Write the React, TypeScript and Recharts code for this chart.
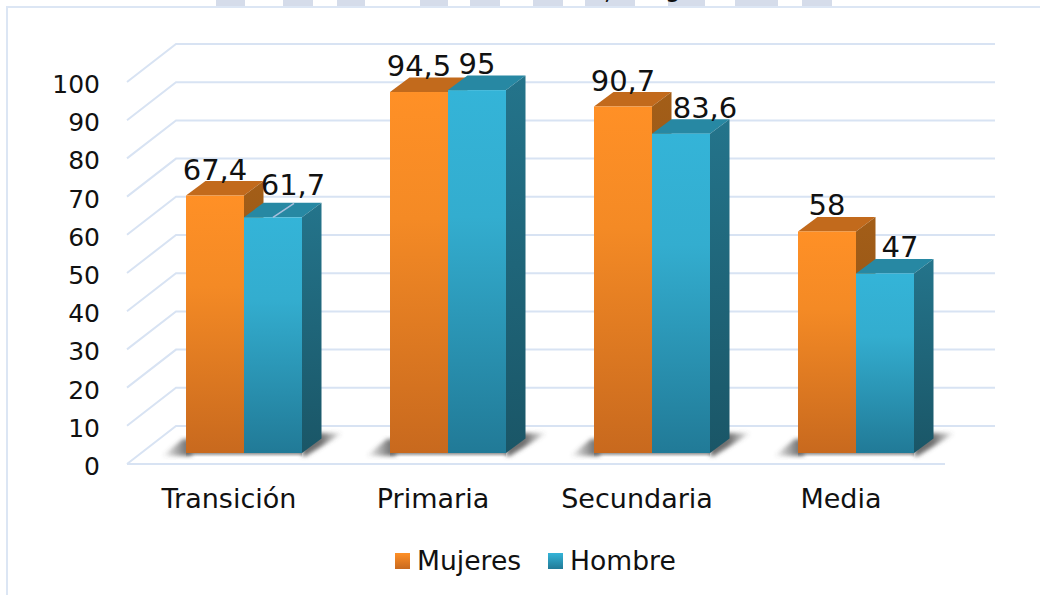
import React from 'react';
import { BarChart, Bar, XAxis, YAxis, CartesianGrid, Legend, LabelList } from 'recharts';

const categories = ['Transición', 'Primaria', 'Secundaria', 'Media'];
const mujeres = [67.4, 94.5, 90.7, 58];
const hombre = [61.7, 95, 83.6, 47];
const yTicks = [0, 10, 20, 30, 40, 50, 60, 70, 80, 90, 100];

// the labels of the blue series were nudged by hand in the original
const hombreLabelDx = [20, 0, 24, 15];
const hombreLabelDy = [-6, 0, 0, 0];

// bottom edge of the big cropped watermark above the chart
const watermarkStems = [
  [216, 245], [283, 313], [337, 365], [420, 448], [470, 500],
  [533, 563], [585, 635], [668, 705], [735, 778], [802, 832],
];

const FONT = '"DejaVu Sans", sans-serif';
const GRID = '#D8E3F3';
const TEXT = '#111111';

const DEPTH_X = 19.5;
const DEPTH_Y = 14.5;

const chartData = categories.map((name, i) => ({ name, mujeres: mujeres[i], hombre: hombre[i] }));

const pts = (list: number[][]) => list.map((p) => p.join(',')).join(' ');

function box(props: any, top: string, side: string) {
  const { x, y, width, height, fill } = props;
  const r = x + width;
  const b = y + height;
  return (
    <g>
      <polygon points={pts([[x, y], [x + DEPTH_X, y - DEPTH_Y], [r + DEPTH_X, y - DEPTH_Y], [r, y]])} fill={top} />
      <polygon points={pts([[r, y], [r + DEPTH_X, y - DEPTH_Y], [r + DEPTH_X, b - DEPTH_Y], [r, b]])} fill={side} />
      <rect x={x} y={y} width={width} height={height} fill={fill} />
    </g>
  );
}

function MujeresShape(props: any) {
  const { x, y, width, height } = props;
  const b = y + height;
  return (
    <g>
      <polygon
        points={pts([[x - 24, b + 3], [x - 3, b - 14], [x + 6, b - 14], [x + 6, b + 3]])}
        fill='url(#shadowLeft)'
        filter='url(#soft)'
      />
      <rect x={x} y={b} width={width} height={4} fill='url(#shadowDown)' />
      {box(props, '#C26A1C', 'url(#sideOrange)')}
    </g>
  );
}

function HombreShape(props: any) {
  const { x, y, width, height } = props;
  const r = x + width;
  const b = y + height;
  return (
    <g>
      <polygon
        points={pts([[r, b + 3], [r + 2, b - 20], [r + 41, b - 20], [r + 4, b + 3]])}
        fill='url(#shadowRight)'
        filter='url(#soft)'
      />
      <rect x={x} y={b} width={width} height={4} fill='url(#shadowDown)' />
      {box(props, '#2788A3', 'url(#sideBlue)')}
    </g>
  );
}

const valueText = (v: number) => String(v).replace('.', ',');

function MujeresLabel(props: any) {
  const { x, y, width, value } = props;
  return (
    <text x={x + width / 2} y={y - 16} textAnchor='middle' fontSize={29} fontFamily={FONT} fill={TEXT}>
      {valueText(value)}
    </text>
  );
}

function HombreLabel(props: any) {
  const { x, y, width, value, index } = props;
  const dx = hombreLabelDx[index];
  const dy = hombreLabelDy[index];
  return (
    <g>
      {dy !== 0 && (
        <line x1={x + width / 2} y1={y} x2={x + width / 2 + dx + 1} y2={y - 14} stroke='#A9BFDD' strokeWidth={1.5} />
      )}
      <text x={x + width / 2 + dx} y={y - 16 + dy} textAnchor='middle' fontSize={29} fontFamily={FONT} fill={TEXT}>
        {valueText(value)}
      </text>
    </g>
  );
}

// wall + floor lines, all hung off the grid's own tick positions
function gridLine(p: any) {
  const isFloor = p.y1 >= p.y + p.height - 1;
  return (
    <g key={p.key ?? p.y1} fill='none' stroke={GRID} strokeWidth={2}>
      <polyline points={pts([[p.x1 - 15, p.y1 + 11], [p.x1 + 34, p.y1 - 27], [p.x2 + 37, p.y1 - 27]])} />
      {isFloor && <line x1={p.x1 - 15} y1={p.y1 + 11} x2={p.x2 - 13} y2={p.y1 + 11} />}
    </g>
  );
}

function YTick(props: any) {
  return (
    <text x={props.x} y={props.y + 22} textAnchor='end' fontSize={25} fontFamily={FONT} fill={TEXT}>
      {props.payload.value}
    </text>
  );
}

function XTick(props: any) {
  return (
    <text x={props.x - 15} y={props.y + 55} textAnchor='middle' fontSize={27} fontFamily={FONT} fill={TEXT}>
      {props.payload.value}
    </text>
  );
}

function LegendBox() {
  const item = (label: string, gradient: string, left: number, textLeft: number) => (
    <React.Fragment key={label}>
      <div style={{ position: 'absolute', left, top: 18, width: 15, height: 16, background: gradient }} />
      <div style={{ position: 'absolute', left: textLeft, top: 11, fontSize: 26.6, lineHeight: '30px', whiteSpace: 'nowrap', fontFamily: FONT, color: TEXT }}>
        {label}
      </div>
    </React.Fragment>
  );
  return (
    <div style={{ position: 'relative', width: 300, height: 44 }}>
      {item('Mujeres', 'linear-gradient(#FF9026, #C8691E)', 0, 22)}
      {item('Hombre', 'linear-gradient(#34B4D8, #217A97)', 153, 175)}
    </div>
  );
}

export default function App() {
  return (
    <div style={{ position: 'fixed', left: 0, top: 0, width: 1040, height: 595, background: '#fff', overflow: 'hidden' }}>
      <svg width={1040} height={595} style={{ position: 'absolute', left: 0, top: 0 }}>
        {watermarkStems.map(([a, b]) => (
          <rect key={a} x={a} y={0} width={b - a} height={6} fill='#D5DCEA' />
        ))}
        <text x={608} y={-1} textAnchor='middle' fontSize={26} fontFamily={FONT} fill={TEXT}>,</text>
        <text x={673} y={-4.5} textAnchor='middle' fontSize={26} fontFamily={FONT} fill={TEXT}>g</text>
        <path d='M7 595 V7 H1040' fill='none' stroke='#DCE6F4' strokeWidth={2} />
      </svg>
      <div style={{ position: 'absolute', left: 0, top: 0 }}>
        <BarChart
          width={1040}
          height={595}
          data={chartData}
          barGap={0}
          barCategoryGap={44}
          margin={{ top: 71, right: 82, bottom: 112, left: 82 }}
        >
          <defs>
            <linearGradient id='frontOrange' x1='0' y1='0' x2='0' y2='1'>
              <stop offset='0' stopColor='#FF9026' />
              <stop offset='0.35' stopColor='#F48A25' />
              <stop offset='1' stopColor='#C8691E' />
            </linearGradient>
            <linearGradient id='frontBlue' x1='0' y1='0' x2='0' y2='1'>
              <stop offset='0' stopColor='#34B4D8' />
              <stop offset='0.35' stopColor='#33ADCF' />
              <stop offset='1' stopColor='#217A97' />
            </linearGradient>
            <linearGradient id='sideOrange' x1='0' y1='0' x2='0' y2='1'>
              <stop offset='0' stopColor='#A35E18' />
              <stop offset='1' stopColor='#8A4E14' />
            </linearGradient>
            <linearGradient id='sideBlue' x1='0' y1='0' x2='0' y2='1'>
              <stop offset='0' stopColor='#24748B' />
              <stop offset='1' stopColor='#1A5667' />
            </linearGradient>
            <linearGradient id='shadowLeft' x1='0' y1='0' x2='1' y2='0'>
              <stop offset='0' stopColor='#555' stopOpacity='0' />
              <stop offset='0.8' stopColor='#555' stopOpacity='0.8' />
            </linearGradient>
            <linearGradient id='shadowRight' x1='0' y1='0' x2='1' y2='0'>
              <stop offset='0.45' stopColor='#555' stopOpacity='0.85' />
              <stop offset='1' stopColor='#555' stopOpacity='0' />
            </linearGradient>
            <linearGradient id='shadowDown' x1='0' y1='0' x2='0' y2='1'>
              <stop offset='0' stopColor='#666' stopOpacity='0.7' />
              <stop offset='1' stopColor='#666' stopOpacity='0' />
            </linearGradient>
            <filter id='soft' x='-20%' y='-20%' width='140%' height='140%'>
              <feGaussianBlur stdDeviation='2' />
            </filter>
          </defs>
          <CartesianGrid vertical={false} horizontal={gridLine} />
          <XAxis dataKey='name' height={30} axisLine={false} tickLine={false} tickSize={0} tickMargin={0} tick={XTick} interval={0} />
          <YAxis
            width={60}
            domain={[0, 100]}
            ticks={yTicks}
            interval={0}
            axisLine={false}
            tickLine={false}
            tickSize={0}
            tickMargin={42}
            tick={YTick}
          />
          <Legend
            layout='horizontal'
            align='center'
            verticalAlign='middle'
            content={LegendBox}
            wrapperStyle={{ position: 'absolute', left: 395, top: 535, width: 300, height: 44 }}
          />
          <Bar dataKey='mujeres' name='Mujeres' fill='url(#frontOrange)' shape={MujeresShape} isAnimationActive={false}>
            <LabelList dataKey='mujeres' content={MujeresLabel} />
          </Bar>
          <Bar dataKey='hombre' name='Hombre' fill='url(#frontBlue)' shape={HombreShape} isAnimationActive={false}>
            <LabelList dataKey='hombre' content={HombreLabel} />
          </Bar>
        </BarChart>
      </div>
    </div>
  );
}
